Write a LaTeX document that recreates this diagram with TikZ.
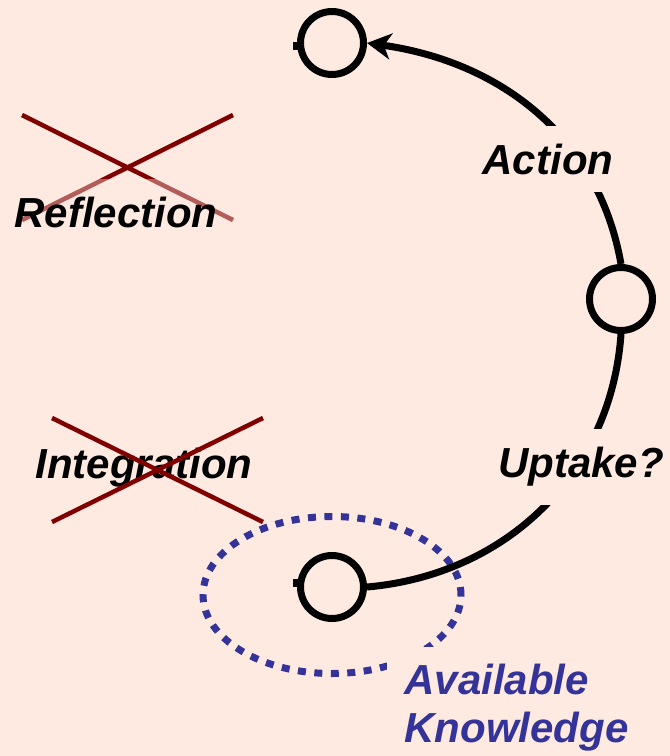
\documentclass[tikz,border=0pt]{standalone}
\usepackage{fontspec}
\setmainfont{Liberation Sans}
\usetikzlibrary{arrows.meta,calc}
\definecolor{peach}{HTML}{FFEAE1}
\definecolor{crossred}{HTML}{800000}
\definecolor{knowblue}{HTML}{333399}

\begin{document}
\begin{tikzpicture}[x=1pt,y=-1pt,line width=7pt,
      every node/.style={font=\fontsize{42}{48}\selectfont\bfseries\itshape},
      stage/.style={circle,draw,fill=peach,minimum size=63pt,inner sep=0pt},
      lab/.style={fill=peach,inner sep=18pt},
      nope/.style={draw=crossred,line width=4.5pt},
      >={Stealth[length=24pt,width=26pt,inset=7pt]}]
  \useasboundingbox(0,0)rectangle(670,756);
  \fill[peach](0,0)rectangle(670,756);
  \draw[knowblue,dash pattern=on 8pt off 8.5pt](332,595)ellipse[x radius=129pt,y radius=78.5pt];
  \node[stage](top)at(332,43){};
  \node[stage](right)at(621,299){};
  \node[stage](bottom)at(332,587){};
  \draw[line width=8pt]($(top.west)+(-4,3)$)--++(5,0)
    ($(bottom.west)+(-4,-4)$)--++(5,0);
  \draw(bottom.east)to[out=5,in=-94](right.south);
  \draw[->](right.north)to[out=100,in=-8](top.east);
  \node[lab](action)at(548,159){Action};
  \node[lab](uptake)at(581,467){Uptake?};
  \node[lab,anchor=north west,align=left,text=knowblue](avail)at(383,643){Available\\Knowledge};
  \node(integ)at(144,468){Integration};
  \draw[nope](52,418)--(263,522)(263,418)--(52,522);
  \draw[nope](22,115)--(233,220)(233,115)--(22,220);
  \node[lab,fill opacity=0.4,text opacity=1](refl)at(116,212){Reflection};
\end{tikzpicture}
\end{document}
